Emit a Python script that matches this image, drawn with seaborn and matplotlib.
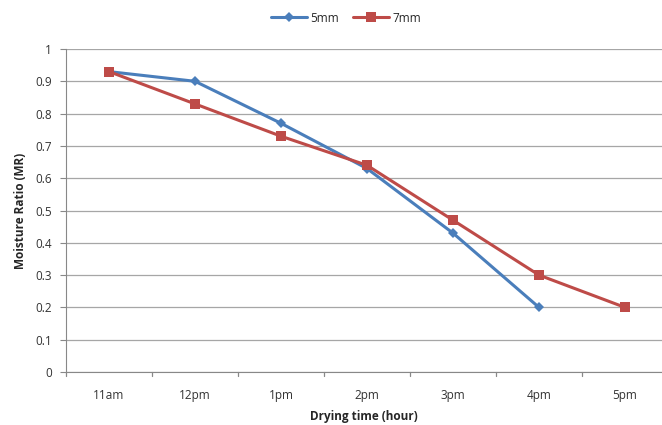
import matplotlib
matplotlib.use("Agg")
import matplotlib.pyplot as plt
import seaborn as sns
import pandas as pd
import numpy as np

times = ["11am", "12pm", "1pm", "2pm", "3pm", "4pm", "5pm"]
mr_5mm = [0.93, 0.90, 0.77, 0.63, 0.43, 0.20]
mr_7mm = [0.93, 0.83, 0.73, 0.64, 0.47, 0.30, 0.20]
y_ticks = [0, 0.1, 0.2, 0.3, 0.4, 0.5, 0.6, 0.7, 0.8, 0.9, 1]
y_labels = ["0", "0.1", "0.2", "0.3", "0.4", "0.5", "0.6", "0.7", "0.8", "0.9", "1"]

df = pd.concat([
    pd.DataFrame({"pos": range(len(mr_5mm)), "MR": mr_5mm, "size": "5mm"}),
    pd.DataFrame({"pos": range(len(mr_7mm)), "MR": mr_7mm, "size": "7mm"}),
])

sns.set_style("white")
plt.rcParams["font.family"] = ["Open Sans", "DejaVu Sans"]

fig = plt.figure(figsize=(6.62, 4.25), dpi=100)
ax = fig.add_axes([66 / 662, 53 / 425, 1 - 66 / 662, (372 - 49) / 425])

palette = {"5mm": "#4A7EBB", "7mm": "#BE4B48"}
sns.lineplot(data=df, x="pos", y="MR", hue="size", style="size",
             markers={"5mm": "D", "7mm": "s"}, dashes=False,
             palette=palette, linewidth=2.2, markersize=7,
             markeredgewidth=0, ax=ax, legend=True)
# smaller diamonds for the 5mm series
for line in ax.lines:
    if line.get_marker() == "D":
        line.set_markersize(5)

ax.set_ylim(0, 1)
ax.set_xlim(-0.5, -0.5 + 596 / 86)
ax.set_yticks(y_ticks)
ax.set_yticklabels(y_labels, fontsize=8.5, color="#333333")
ax.set_xticks(range(len(times)))
ax.set_xticklabels(times, fontsize=8.5, color="#333333")
ax.tick_params(axis="x", length=0, pad=12)
ax.tick_params(axis="y", length=4, color="#888888", direction="out", pad=6, left=True)
# boundary ticks between categories
for b in np.arange(-0.5, len(times), 1.0):
    ax.plot([b, b], [0, -0.012], color="#888888", lw=0.9, clip_on=False)

ax.yaxis.grid(True, color="#A6A6A6", lw=0.9)
ax.xaxis.grid(False)
for s in ["top", "right"]:
    ax.spines[s].set_visible(False)
ax.spines["left"].set_color("#888888")
ax.spines["bottom"].set_color("#888888")

ax.set_xlabel("Drying time (hour)", fontsize=8.5, fontweight="bold", labelpad=6)
ax.set_ylabel("Moisture Ratio (MR)", fontsize=8.5, fontweight="bold", labelpad=6)

handles, labels = ax.get_legend_handles_labels()
ax.legend(handles, labels, loc="center", bbox_to_anchor=(346 / 662 - 66 / 662, 1.0), bbox_transform=fig.transFigure,
          ncol=2, frameon=False, fontsize=8.5, handlelength=3, columnspacing=1.2, handletextpad=0.3)
leg = ax.get_legend()
leg.set_bbox_to_anchor((346 / 662, 407 / 425), transform=fig.transFigure)

fig.savefig("out.png", dpi=100)
